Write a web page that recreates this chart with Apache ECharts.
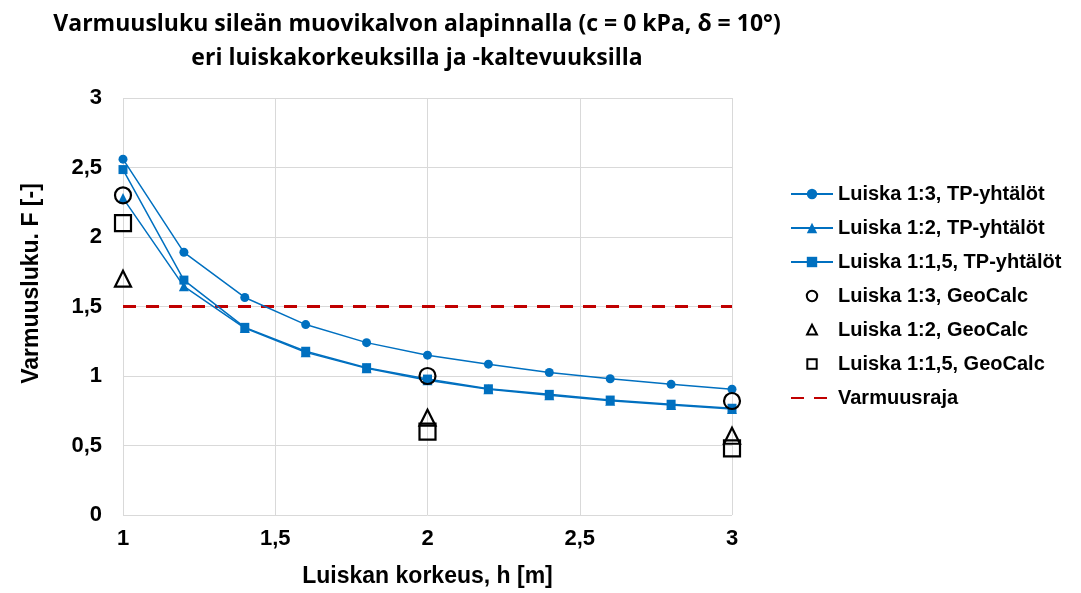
<!DOCTYPE html>
<html><head><meta charset="utf-8">
<script src="https://cdn.jsdelivr.net/npm/echarts@6/dist/echarts.min.js"></script>
<style>html,body{margin:0;padding:0;background:#fff}#c{width:1081px;height:593px}</style>
</head><body><div id="c"></div>
<script>
const heights = [1, 1.2, 1.4, 1.6, 1.8, 2, 2.2, 2.4, 2.6, 2.8, 3];
const tp13 = [2.56, 1.89, 1.565, 1.37, 1.24, 1.15, 1.085, 1.025, 0.98, 0.94, 0.905];
const tp12 = [2.28, 1.645, 1.345, 1.17, 1.055, 0.97, 0.905, 0.862, 0.822, 0.792, 0.762];
const tp115 = [2.485, 1.69, 1.35, 1.178, 1.06, 0.978, 0.908, 0.868, 0.827, 0.797, 0.768];
const geoHeights = [1, 2, 3];
const geo13 = [2.30, 1.00, 0.82];
const geo12 = [1.70, 0.70, 0.57];
const geo115 = [2.10, 0.60, 0.48];
const limitX = [1, 3];
const limitY = [1.5, 1.5];
const names = ['Luiska 1:3, TP-yhtälöt','Luiska 1:2, TP-yhtälöt','Luiska 1:1,5, TP-yhtälöt','Luiska 1:3, GeoCalc','Luiska 1:2, GeoCalc','Luiska 1:1,5, GeoCalc','Varmuusraja'];

const pair = (xs, ys) => xs.map((x, i) => [x, ys[i]]);
const fmt = v => String(v).replace('.', ',');
const blue = '#0070C0';
const pad = 'M-1.25,-1.25M1.25,1.25';
const icCircle = 'path://' + pad + 'M1,0A1,1,0,1,1,-1,0A1,1,0,1,1,1,0Z';
const icTri = 'path://' + pad + 'M0,-1L0.95,0.85L-0.95,0.85Z';
const icRect = 'path://' + pad + 'M-0.9,-0.9H0.9V0.9H-0.9Z';
const lineSeries = (name, ys, sym, size) => ({
  name, type: 'line', data: pair(heights, ys), symbol: sym, symbolSize: size,
  lineStyle: {color: blue, width: 1.5}, itemStyle: {color: blue}, z: 3
});
const geoSeries = (name, ys, sym, size) => ({
  name, type: 'scatter', data: pair(geoHeights, ys), symbol: sym, symbolSize: size,
  itemStyle: {color: 'rgba(255,255,255,0)', borderColor: '#000', borderWidth: 2.2, opacity: 1}, z: 4
});
const axisFont = {fontFamily: 'Liberation Sans', fontWeight: 'bold', color: '#000'};
const chart = echarts.init(document.getElementById('c'));
chart.setOption({
  animation: false,
  title: {
    text: 'Varmuusluku sileän muovikalvon alapinnalla (c = 0 kPa, δ = 10°)\neri luiskakorkeuksilla ja -kaltevuuksilla',
    left: 412, top: 2, textAlign: 'center',
    textStyle: {fontFamily: 'Open Sans', fontWeight: 'bold', fontSize: 23, lineHeight: 34, color: '#000'}
  },
  grid: {left: 123, right: 349, top: 98, bottom: 77},
  legend: {
    orient: 'vertical', left: 785, top: 179, itemGap: 14, itemWidth: 42, itemHeight: 13,
    textStyle: Object.assign({fontSize: 20, lineHeight: 20}, axisFont),
    data: [
      names[0], names[1], names[2],
      {name: names[3], icon: icCircle},
      {name: names[4], icon: icTri},
      {name: names[5], icon: icRect},
      {name: names[6], itemStyle: {opacity: 0}}
    ]
  },
  xAxis: {
    type: 'value', min: 1, max: 3, interval: 0.5,
    name: 'Luiskan korkeus, h [m]', nameLocation: 'middle', nameGap: 50,
    nameTextStyle: Object.assign({fontSize: 23}, axisFont),
    axisLine: {show: false}, axisTick: {show: false},
    axisLabel: Object.assign({formatter: fmt, fontSize: 22, margin: 13}, axisFont),
    splitLine: {show: true, lineStyle: {color: '#d9d9d9', width: 1}}
  },
  yAxis: {
    type: 'value', min: 0, max: 3, interval: 0.5,
    name: 'Varmuusluku. F [-]', nameLocation: 'middle', nameGap: 80,
    nameTextStyle: Object.assign({fontSize: 23, padding: [0, 0, 0, 46]}, axisFont),
    axisLine: {show: false}, axisTick: {show: false},
    axisLabel: Object.assign({formatter: fmt, fontSize: 22, margin: 21}, axisFont),
    splitLine: {show: true, lineStyle: {color: '#d9d9d9', width: 1}}
  },
  series: [
    lineSeries(names[0], tp13, 'circle', 9),
    lineSeries(names[1], tp12, 'triangle', 10),
    lineSeries(names[2], tp115, 'rect', 9),
    geoSeries(names[3], geo13, 'circle', 16),
    geoSeries(names[4], geo12, 'triangle', 16),
    geoSeries(names[5], geo115, 'rect', 16),
    {name: names[6], type: 'line', data: pair(limitX, limitY), symbol: 'none',
     lineStyle: {color: '#C00000', width: 3, type: [13, 10]}, itemStyle: {color: '#C00000'}, z: 2}
  ]
});
</script></body></html>
